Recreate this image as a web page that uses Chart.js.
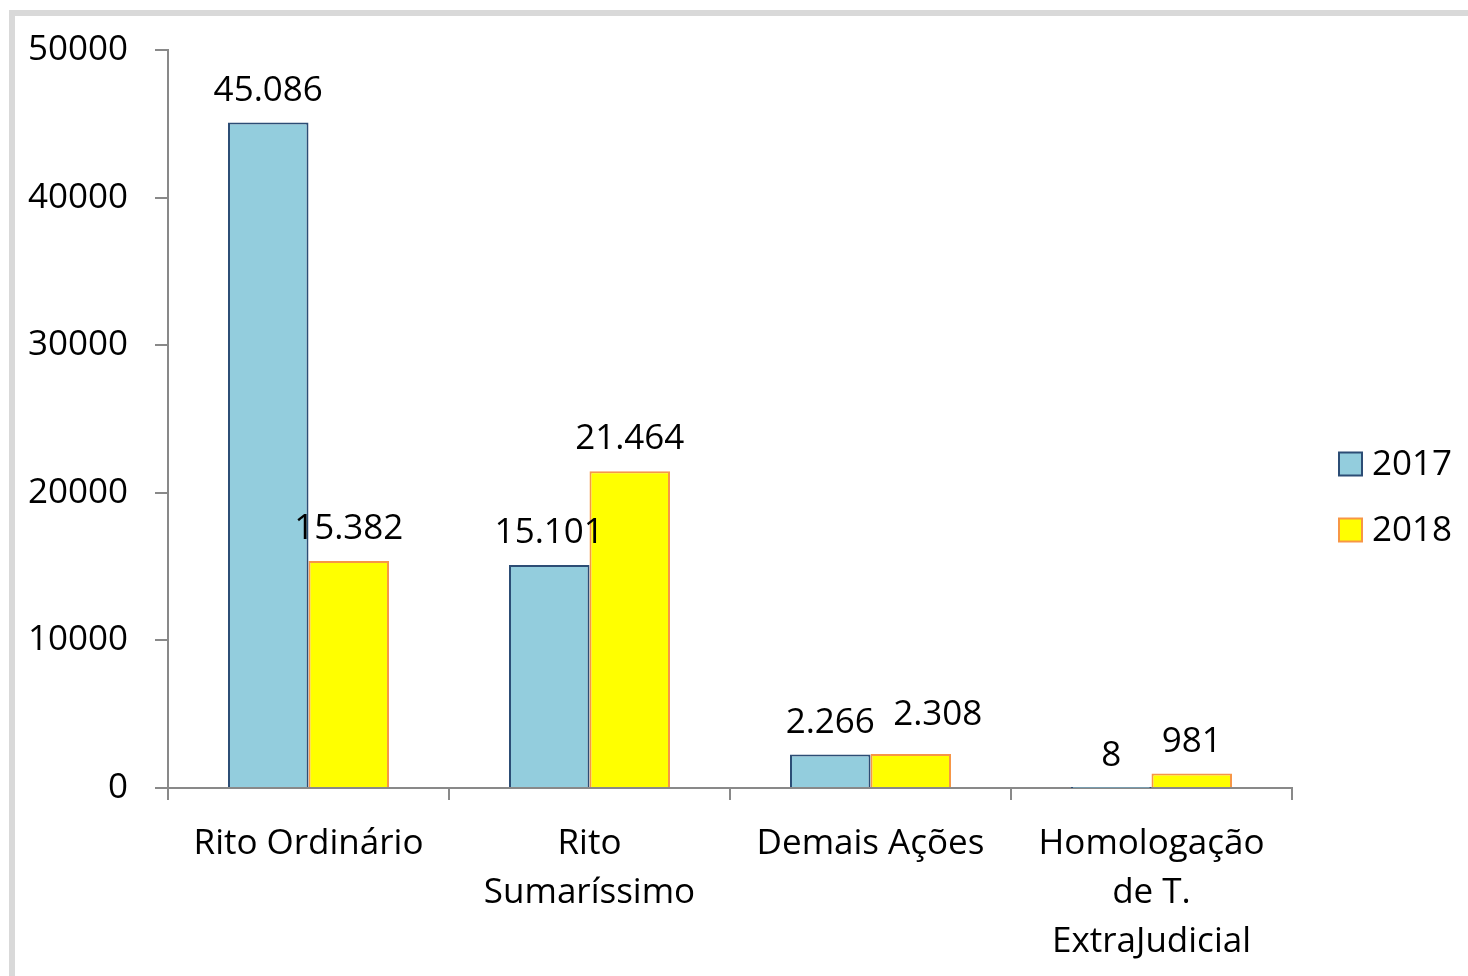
<!DOCTYPE html>
<html>
<head>
<meta charset="utf-8">
<script src="https://cdn.jsdelivr.net/npm/chart.js@4/dist/chart.umd.min.js"></script>
<style>
    html, body { margin: 0; padding: 0; background: #fff; overflow: hidden; }
    #frame {
        position: absolute; left: 9px; top: 10px;
        width: 1500px; height: 1000px;
        border: 6px solid #d9d9d9; box-sizing: border-box;
    }
    #wrap { position: absolute; left: 0; top: 0; width: 1468px; height: 976px; }
</style>
</head>
<body>
<div id="frame"></div>
<div id="wrap"><canvas id="acoesChart" width="1468" height="976"></canvas></div>
<script>
const categories = [
    'Rito Ordinário',
    ['Rito', 'Sumaríssimo'],
    'Demais Ações',
    ['Homologação', 'de T.', 'ExtraJudicial']
];
const seriesNames = ['2017', '2018'];
const values2017 = [45086, 15101, 2266, 8];
const values2018 = [15382, 21464, 2308, 981];
const yTicks = [0, 10000, 20000, 30000, 40000, 50000];

const FONT = '"Open Sans", "Noto Sans", sans-serif';
const FONT_SIZE = 35;

function formatBR(v) {
    return String(v).replace(/\B(?=(\d{3})+(?!\d))/g, '.');
}

// value labels above each bar; one label is nudged so it does not collide
const labelNudge = { '1-2': [27, -7] };
const barLabels = {
    id: 'barLabels',
    afterDatasetsDraw(chart) {
        const ctx = chart.ctx;
        ctx.save();
        ctx.font = FONT_SIZE + 'px ' + FONT;
        ctx.fillStyle = '#000';
        ctx.textAlign = 'center';
        ctx.textBaseline = 'alphabetic';
        chart.data.datasets.forEach((ds, i) => {
            chart.getDatasetMeta(i).data.forEach((bar, j) => {
                const [dx, dy] = labelNudge[i + '-' + j] || [0, 0];
                ctx.fillText(formatBR(ds.data[j]), bar.x + dx, bar.y - 22 + dy);
            });
        });
        ctx.restore();
    }
};

// legend drawn at the right side, two rows
const sideLegend = {
    id: 'sideLegend',
    afterDraw(chart) {
        const ctx = chart.ctx;
        const x = 1339, rows = [464, 530], box = 23;
        ctx.save();
        ctx.font = FONT_SIZE + 'px ' + FONT;
        ctx.textBaseline = 'middle';
        ctx.textAlign = 'left';
        chart.data.datasets.forEach((ds, i) => {
            const cy = rows[i];
            ctx.fillStyle = ds.backgroundColor;
            ctx.fillRect(x, cy - box / 2, box, box);
            ctx.strokeStyle = ds.borderColor;
            ctx.lineWidth = 2;
            ctx.strokeRect(x, cy - box / 2, box, box);
            ctx.fillStyle = '#000';
            ctx.fillText(ds.label, x + 33, cy + 1);
        });
        ctx.restore();
    }
};

new Chart(document.getElementById('acoesChart'), {
    type: 'bar',
    data: {
        labels: categories,
        datasets: [{
            label: seriesNames[0],
            data: values2017,
            backgroundColor: '#93CDDD',
            borderColor: '#2C4D75',
            borderWidth: 2
        }, {
            label: seriesNames[1],
            data: values2018,
            backgroundColor: '#FFFF00',
            borderColor: '#F79646',
            borderWidth: 2
        }]
    },
    options: {
        responsive: false,
        animation: false,
        categoryPercentage: 0.573,
        barPercentage: 1.0,
        layout: { padding: { top: 50, right: 176, left: 0, bottom: 0 } },
        plugins: {
            legend: { display: false },
            tooltip: { enabled: false }
        },
        scales: {
            x: {
                grid: {
                    offset: true,
                    drawOnChartArea: false,
                    drawTicks: true,
                    tickLength: 12,
                    color: '#898989',
                    lineWidth: 2
                },
                border: { color: '#898989', width: 2 },
                ticks: {
                    color: '#000',
                    padding: 20,
                    maxRotation: 0,
                    autoSkip: false,
                    font: { family: FONT, size: FONT_SIZE, lineHeight: 1.4 }
                },
                afterFit(scale) { scale.height = 188; }
            },
            y: {
                min: 0,
                max: 50000,
                afterBuildTicks(scale) {
                    scale.ticks = yTicks.map(v => ({ value: v }));
                },
                grid: {
                    drawOnChartArea: false,
                    drawTicks: true,
                    tickLength: 13,
                    color: '#898989',
                    lineWidth: 2
                },
                border: { color: '#898989', width: 2 },
                ticks: {
                    color: '#000',
                    padding: 27,
                    callback: v => String(v),
                    font: { family: FONT, size: FONT_SIZE }
                },
                afterFit(scale) { scale.width = 168; }
            }
        }
    },
    plugins: [barLabels, sideLegend]
});
</script>
</body>
</html>
